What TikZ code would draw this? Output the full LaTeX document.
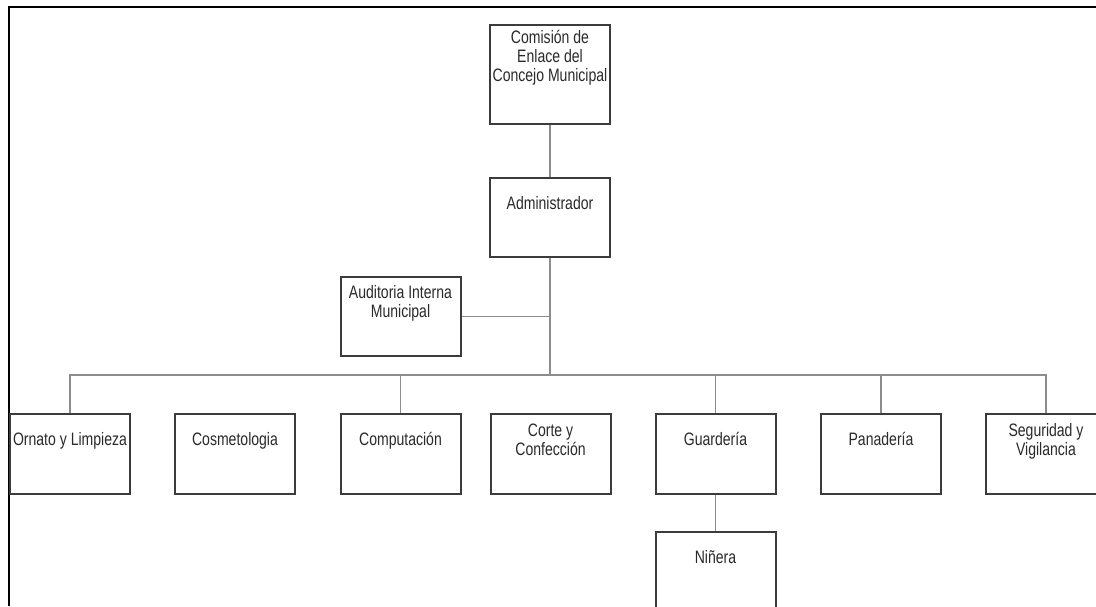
\documentclass[tikz,border=0pt]{standalone}
\usepackage{fontspec}
\setmainfont{Liberation Sans}[FakeStretch=0.78]
\usepackage{xcolor}
\usepackage{tikz}

\definecolor{boxline}{HTML}{3C3C3C}
\definecolor{linkline}{HTML}{8C8C8C}
\definecolor{labeltext}{HTML}{2A2A2A}

% text sits in the upper part of each box
\newcommand{\unittext}[2][12pt]{\begin{tabular}{@{}c@{}}#2\\[#1]\end{tabular}}

\tikzset{
  unit/.style={draw=boxline, line width=1pt, fill=white, inner sep=0pt,
    minimum width=60pt, minimum height=40pt, text=labeltext,
    font=\fontsize{9}{9.4}\selectfont},
  link/.style={draw=linkline, line width=0.8pt},
}

\begin{document}
\begin{tikzpicture}[x=0.5pt, y=-0.5pt]
    \clip (0,0) rectangle (1096,606);
    \draw[line width=1pt] (9,606) -- (9,7) -- (1096,7);

    \node (comision) at (550,74.5)
      [unit, minimum height=49.5pt]
      {\unittext[16pt]{Comisión de\\Enlace del\\Concejo Municipal}};
    \node (admin) at (550,217.5)
      [unit, minimum height=39.5pt]
      {\unittext{Administrador}};
    \node (auditoria) at (400.5,316.5)
      [unit, minimum height=39.5pt]
      {\unittext{Auditoria Interna\\Municipal}};

    \coordinate (bus) at (551,375);

    \node (ornato) at (70,454) [unit] {\unittext{Ornato y Limpieza}};
    \node (cosmetologia) at (235,454) [unit] {\unittext{Cosmetologia}};
    \node (computacion) at (400.5,454) [unit] {\unittext{Computación}};
    \node (corte) at (550.5,454) [unit] {\unittext{Corte y\\Confección}};
    \node (guarderia) at (715.5,454) [unit] {\unittext{Guardería}};
    \node (panaderia) at (881,454) [unit] {\unittext{Panadería}};
    \node (seguridad) at (1046,454) [unit] {\unittext{Seguridad y\\Vigilancia}};

    \node (ninera) at (715.5,572) [unit] {\unittext{Niñera}};

    % connectors
    \draw[link] (comision) -- (admin);
    \draw[link] (admin.south) -- (admin.south |- bus);
    \draw[link] (auditoria.east) -- (auditoria.east -| admin.south);
    \foreach \u in {ornato, computacion, guarderia, panaderia, seguridad}
      \draw[link] (\u.north) |- (bus);
    \draw[link] (guarderia) -- (ninera);
  \end{tikzpicture}
\end{document}
